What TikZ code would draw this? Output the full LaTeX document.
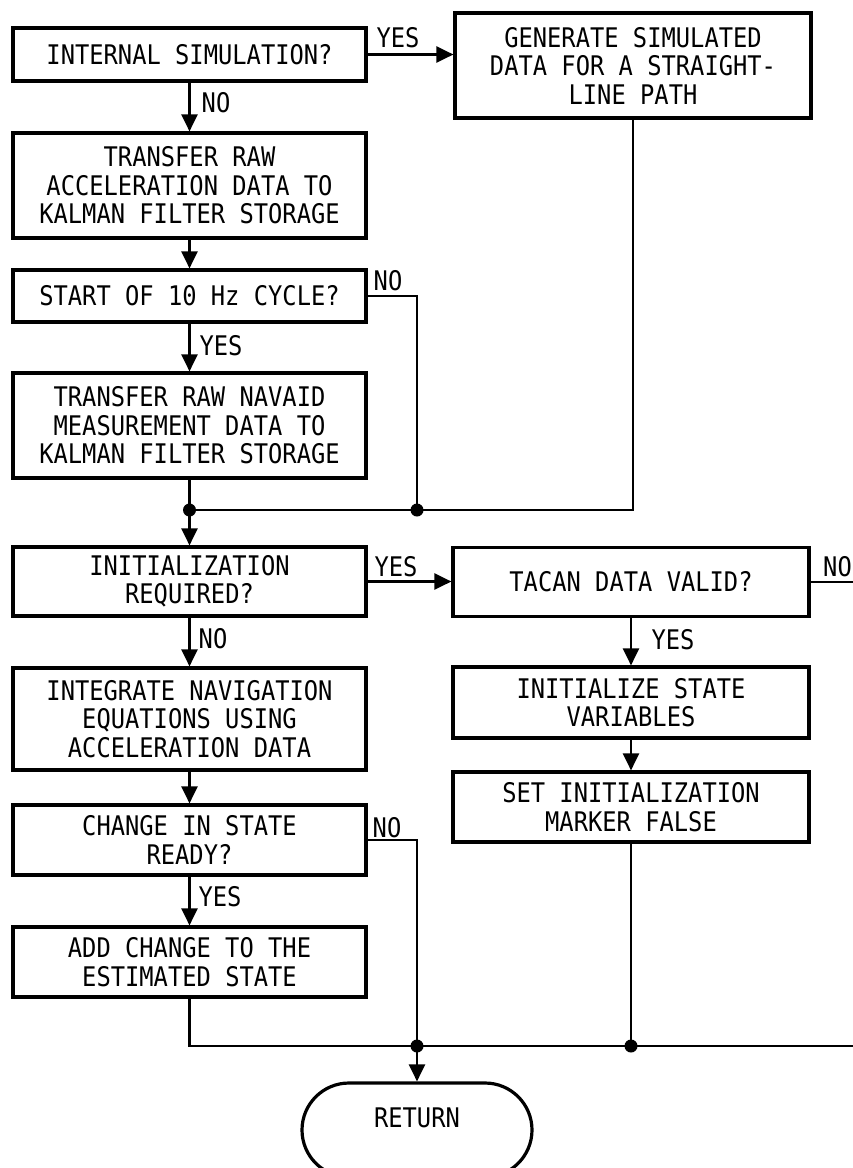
\documentclass[tikz,border=0pt]{standalone}
\usepackage{fontspec}
\setmainfont[FakeStretch=0.88]{DejaVu Sans Mono}
\usetikzlibrary{arrows.meta,shapes.misc}
\begin{document}
\begin{tikzpicture}[x=1pt,y=-1pt,
  every node/.style={font=\fontsize{27}{28.5}\selectfont, inner sep=0pt},
  box/.style={draw, line width=3.2pt, rectangle, align=center},
  lbox/.style={box, minimum width=353pt},
  rbox/.style={box, minimum width=356pt},
  conn/.style={line width=2.3pt},
  arr/.style={conn, -{Triangle[length=17pt,width=16pt]}},
  lab/.style={anchor=center}
]
\useasboundingbox (0,0) rectangle (853,1168);
\clip (0,0) rectangle (853,1168);

% boxes
\node[lbox, minimum height=53pt]  (b1)  at (189.5,54.5) {INTERNAL SIMULATION?};
\node[rbox, minimum height=105pt] (b2)  at (633,65.5)   {GENERATE SIMULATED\\DATA FOR A STRAIGHT-\\LINE PATH};
\node[lbox, minimum height=105pt] (b3)  at (189.5,185.5) {TRANSFER RAW\\ACCELERATION DATA TO\\KALMAN FILTER STORAGE};
\node[lbox, minimum height=52pt]  (b4)  at (189.5,296)  {START OF 10 Hz CYCLE?};
\node[lbox, minimum height=105pt] (b5)  at (189.5,425.5) {TRANSFER RAW NAVAID\\MEASUREMENT DATA TO\\KALMAN FILTER STORAGE};
\node[lbox, minimum height=69pt]  (b6)  at (189.5,581.5) {INITIALIZATION\\REQUIRED?};
\node[rbox, minimum height=69pt]  (b7)  at (631,582)    {TACAN DATA VALID?};
\node[rbox, minimum height=71pt]  (b8)  at (631,702.5)  {INITIALIZE STATE\\VARIABLES};
\node[rbox, minimum height=70pt]  (b9)  at (631,807)    {SET INITIALIZATION\\MARKER FALSE};
\node[lbox, minimum height=102pt] (b10) at (189.5,719)  {INTEGRATE NAVIGATION\\EQUATIONS USING\\ACCELERATION DATA};
\node[lbox, minimum height=70pt]  (b11) at (189.5,840)  {CHANGE IN STATE\\READY?};
\node[lbox, minimum height=70pt]  (b12) at (189.5,962)  {ADD CHANGE TO THE\\ESTIMATED STATE};
\node[draw, line width=3.2pt, rounded rectangle, minimum width=230pt, minimum height=94pt,
      text height=19pt, text depth=24pt] (ret) at (417,1130) {RETURN};

% junctions and corners
\coordinate (j1)  at (189.5,510);
\coordinate (j1b) at (417,510);
\coordinate (c4)  at (417,296);
\coordinate (c11) at (417,840);
\coordinate (j2b) at (417,1046);
\coordinate (j2c) at (631,1046);
\coordinate (e1)  at (853,582);
\coordinate (e2)  at (853,1046);

% connectors
\draw[arr]  (b1) -- (b3);
\draw[arr]  (b1.east) -- (b1.east -| b2.west);
\draw[arr]  (b3) -- (b4);
\draw[arr]  (b4) -- (b5);
\draw[conn] (b4.east) -- (c4) -- (j1b);
\draw[conn] (b2.south) |- (j1);
\draw[conn] (b5.south) -- (j1);
\draw[arr]  (j1) -- (b6.north);
\draw[arr]  (b6.east) -- (b6.east -| b7.west);
\draw[conn] (b7.east) -- (e1);
\draw[arr]  (b7) -- (b8);
\draw[arr]  (b8) -- (b9);
\draw[arr]  (b6) -- (b10);
\draw[arr]  (b10) -- (b11);
\draw[arr]  (b11) -- (b12);
\draw[conn] (b11.east) -- (c11) -- (j2b);
\draw[conn] (b12.south) |- (e2);
\draw[conn] (b9.south) -- (j2c);
\draw[arr]  (j2b) -- (ret.north);

% junction dots
\fill (j1)  circle (6.5pt);
\fill (j1b) circle (6.5pt);
\fill (j2b) circle (6.5pt);
\fill (j2c) circle (6.5pt);

% labels
\node[lab] (l1)  at (398,38)  {YES};
\node[lab] (l2)  at (216,103) {NO};
\node[lab] (l3)  at (388,281) {NO};
\node[lab] (l4)  at (221,346) {YES};
\node[lab] (l5)  at (396,567) {YES};
\node[anchor=west] (l6) at (823,567) {NO};
\node[lab] (l7)  at (213,639) {NO};
\node[lab] (l8)  at (673,640) {YES};
\node[lab] (l9)  at (387,828) {NO};
\node[lab] (l10) at (220,897) {YES};
\end{tikzpicture}
\end{document}
